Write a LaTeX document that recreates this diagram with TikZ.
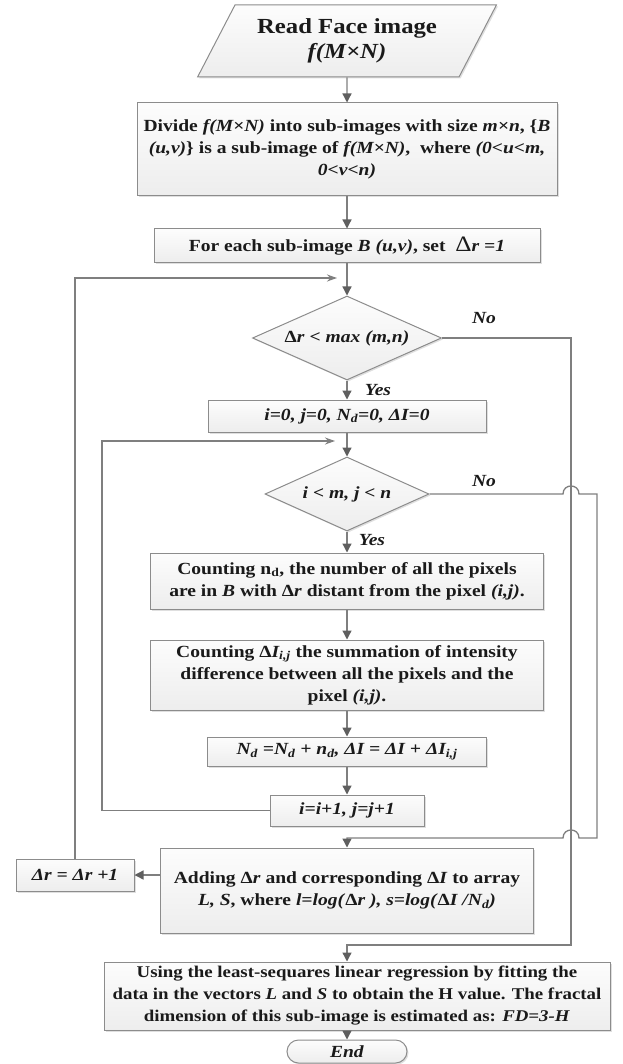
\documentclass[tikz,border=0pt]{standalone}
\usepackage{fontspec}
\setmainfont{Liberation Serif}[FakeStretch=1.15]
\usetikzlibrary{shapes.geometric,shadows,arrows.meta}
\definecolor{ln}{HTML}{7F7F7F}
\definecolor{hd}{HTML}{5F5F5F}
\definecolor{bd}{HTML}{8C8C8C}
\definecolor{tx}{HTML}{1A1A1A}
\newcommand{\bodyfnt}{\bfseries\fontsize{17}{22}\selectfont}
\newcommand{\titlefnt}{\bfseries\fontsize{21.5}{25}\selectfont}
\begin{document}
\begin{tikzpicture}[x=1pt,y=-1pt,
  line/.style={draw=ln, line width=1.3pt},
  arr/.style={line, -{Triangle[length=9pt,width=9pt,color=hd]}},
  marr/.style={line, -{Stealth[length=10pt,width=7pt,color=ln]}},
  shade/.style={draw=bd, line width=1pt, top color=gray!2, bottom color=gray!14,
    drop shadow={shadow xshift=1.5pt, shadow yshift=-1.5pt, opacity=0.25}},
  box/.style={rectangle, shade, align=center, inner sep=0pt, text=tx, font=\bodyfnt},
  dia/.style={diamond, shade, aspect=2.2, inner sep=0pt, text=tx, font=\bodyfnt},
  para/.style={trapezium, trapezium left angle=56, trapezium right angle=124,
    trapezium stretches=true, shade, align=center, inner sep=0pt, text=tx, font=\titlefnt},
  lbl/.style={text=tx, font=\bodyfnt\itshape, inner sep=0pt}]
\useasboundingbox (0,0) rectangle (622,1064);

% nodes
\node[para, minimum width=299pt, minimum height=72pt] (read) at (347,41)
  {Read Face image\\\textit{f(M×N)}};
\node[box, minimum width=420pt, minimum height=93pt] (divide) at (347,149.5)
  {Divide \textit{f(M×N)} into sub-images with size \textit{m×n}, \{\textit{B}\\
   \textit{(u,v)}\} is a sub-image of \textit{f(M×N)},~ where \textit{(0<u<m,}\\
   \textit{0<v<n)}};
\node[box, minimum width=386pt, minimum height=34pt] (each) at (347,246)
  {For each sub-image \textit{B (u,v)}, set~ {\mdseries\fontsize{22}{22}\selectfont Δ}\textit{r =1}};
\node[dia, minimum width=189pt, minimum height=84pt] (d1) at (347,338)
  {Δ\textit{r} < \textit{max (m,n)}};
\node[box, minimum width=278pt, minimum height=32pt] (init) at (347,416)
  {\textit{i=0, j=0, N\textsubscript{d}=0, ΔI=0}};
\node[dia, minimum width=164pt, minimum height=74pt] (d2) at (347,494)
  {\textit{i < m, j < n}};
\node[box, minimum width=393pt, minimum height=56pt] (c1) at (347,581)
  {Counting n\textsubscript{d}, the number of all the pixels\\
   are in \textit{B} with Δ\textit{r} distant from the pixel \textit{(i,j)}.};
\node[box, minimum width=393pt, minimum height=70pt] (c2) at (347,675)
  {Counting Δ\textit{I\textsubscript{i,j}} the summation of intensity\\
   difference between all the pixels and the\\ pixel \textit{(i,j)}.};
\node[box, minimum width=279pt, minimum height=29pt] (acc) at (347,751.5)
  {\textit{N\textsubscript{d} =N\textsubscript{d} + n\textsubscript{d}, ΔI = ΔI + ΔI\textsubscript{i,j}}};
\node[box, minimum width=154pt, minimum height=31pt] (inc) at (347,810.5)
  {\textit{i=i+1, j=j+1}};
\node[box, minimum width=373pt, minimum height=85pt] (add) at (347,890.5)
  {Adding Δ\textit{r} and corresponding Δ\textit{I} to array\\
   \textit{L, S}, where \textit{l=log(}Δ\textit{r ), s=log(}Δ\textit{I /N\textsubscript{d})}};
\node[box, minimum width=118pt, minimum height=32pt] (dr) at (75,875)
  {\textit{Δr = Δr +1}};
\node[box, minimum width=506pt, minimum height=68pt,
      font=\bfseries\fontsize{16.4}{22}\selectfont] (using) at (357,996)
  {Using the least-sequares linear regression by fitting the\\
   data in the vectors \textit{L} and \textit{S} to obtain the H value. The fractal\\
   dimension of this sub-image is estimated as: \textit{FD=3-H}};
\node[box, rounded corners=11.5pt, minimum width=120pt, minimum height=23pt] (end) at (347,1051.5)
  {\textit{End}};

% labels
\node[lbl] (no1) at (484,318) {No};
\node[lbl] (yes1) at (378,390) {Yes};
\node[lbl] (no2) at (484,481) {No};
\node[lbl] (yes2) at (372,540) {Yes};

% helper coordinates
\coordinate (j1) at (337,278);
\coordinate (j2) at (335,441);
\coordinate (l2) at (102,441);
\coordinate (r1) at (571,945);
\coordinate (m1) at (347,945);
\coordinate (m2) at (347,838);
\coordinate (ha) at (563,494);
\coordinate (hb) at (579,494);
\coordinate (rc) at (597,494);
\coordinate (rd) at (597,838);
\coordinate (hc) at (579,838);
\coordinate (hd) at (563,838);

% connectors
\draw[arr] (read.south) -- (divide.north);
\draw[arr] (divide.south) -- (each.north);
\draw[arr] (each.south) -- (d1.north);
\draw[arr] (d1.south) -- (init.north);
\draw[arr] (init.south) -- (d2.north);
\draw[arr] (d2.south) -- (c1.north);
\draw[arr] (c1.south) -- (c2.north);
\draw[arr] (c2.south) -- (acc.north);
\draw[arr] (acc.south) -- (inc.north);
\draw[arr] (end.north |- using.south) -- (end.north);
\draw[arr] (dr.east -| add.west) -- (dr.east);
\draw[marr] (dr.north) |- (j1);
\draw[marr] (inc.west) -| (l2) -- (j2);
\draw[arr] (d1.east) -| (r1) -- (m1) -- (m1 |- using.north);
\draw[arr] (d2.east) -- (ha) .. controls (563,483.3) and (579,483.3) .. (hb) -- (rc) -- (rd)
  -- (hc) .. controls (579,827.3) and (563,827.3) .. (hd) -- (m2) -- (m2 |- add.north);
\end{tikzpicture}
\end{document}
